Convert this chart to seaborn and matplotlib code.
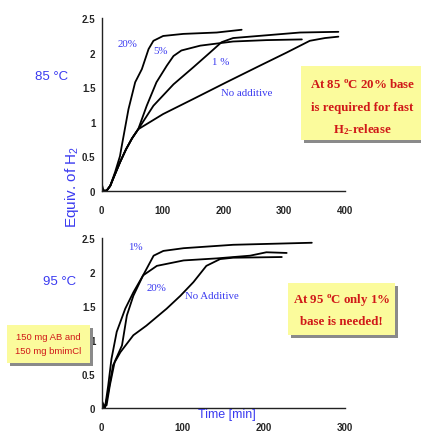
import matplotlib
matplotlib.use("Agg")
import matplotlib.pyplot as plt
from matplotlib.patches import Rectangle
import seaborn as sns

# ---- 85 C panel (time in min, equiv. of H2) ----
t85_20 = [0, 3, 8, 14, 22, 30, 33, 44, 55, 66, 77, 85, 101, 134, 189, 230]
h85_20 = [0.1, 0.0, 0.0, 0.07, 0.27, 0.5, 0.65, 1.18, 1.57, 1.76, 2.05, 2.17, 2.24, 2.27, 2.29, 2.33]

t85_5 = [0, 8, 14, 20, 30, 40, 50, 60, 74, 90, 107, 118, 131, 162, 216, 271, 329]
h85_5 = [0.0, 0.0, 0.07, 0.2, 0.41, 0.6, 0.76, 0.89, 1.23, 1.57, 1.81, 1.95, 2.03, 2.10, 2.16, 2.18, 2.19]

t85_1 = [0, 8, 14, 20, 30, 40, 50, 60, 85, 118, 151, 178, 197, 216, 271, 326, 389]
h85_1 = [0.0, 0.0, 0.07, 0.2, 0.41, 0.6, 0.76, 0.89, 1.23, 1.54, 1.79, 2.00, 2.15, 2.21, 2.25, 2.29, 2.30]

t85_0 = [0, 8, 14, 20, 30, 40, 50, 60, 101, 151, 205, 260, 304, 342, 367, 389]
h85_0 = [0.0, 0.0, 0.07, 0.2, 0.41, 0.6, 0.76, 0.89, 1.11, 1.33, 1.57, 1.81, 2.00, 2.17, 2.21, 2.23]

# ---- 95 C panel ----
t95_1 = [0, 4, 8, 12, 18.5, 29, 39, 51, 64, 76, 101, 162, 259]
h95_1 = [0.11, 0.0, 0.33, 0.72, 1.12, 1.46, 1.70, 1.95, 2.24, 2.31, 2.35, 2.40, 2.43]

t95_20 = [0, 6, 10, 16, 25, 31, 39, 51, 68, 101, 142, 183, 203, 228]
h95_20 = [0.0, 0.04, 0.33, 0.68, 0.92, 1.36, 1.65, 1.95, 2.09, 2.17, 2.20, 2.24, 2.29, 2.28]

t95_0 = [0, 4, 8, 14, 23, 39, 55, 68, 80, 97, 113, 129, 146, 162, 222]
h95_0 = [0.0, 0.01, 0.23, 0.63, 0.82, 1.07, 1.21, 1.34, 1.46, 1.65, 1.85, 2.09, 2.19, 2.21, 2.22]

y_ticks = [0, 0.5, 1, 1.5, 2, 2.5]
y_tick_labels = ["0", "0.5", "1", "1.5", "2", "2.5"]

sns.set_style("white")
plt.rcParams['font.family'] = ['Liberation Sans', 'DejaVu Sans']
plt.rcParams['mathtext.default'] = 'regular'

BLUE = '#3a3af0'
RED = '#d01818'
YELLOW = '#fbfb9c'
SANS = ['Liberation Sans', 'DejaVu Sans']
SERIF = ['Liberation Serif', 'DejaVu Serif']
tick_font = dict(family=SANS, weight='bold', size=7)

fig = plt.figure(figsize=(4.21, 4.35), dpi=100)
ax1 = fig.add_axes([0.2416, 0.5593, 0.578, 0.397])
ax2 = fig.add_axes([0.2416, 0.0598, 0.578, 0.3908])


def draw_curves(ax, series):
    for t, h in series:
        sns.lineplot(x=t, y=h, ax=ax, color='black', linewidth=1.3,
                     sort=False, estimator=None)


draw_curves(ax1, [(t85_20, h85_20), (t85_5, h85_5), (t85_1, h85_1), (t85_0, h85_0)])
draw_curves(ax2, [(t95_1, h95_1), (t95_20, h95_20), (t95_0, h95_0)])

for ax, xmax in [(ax1, 400), (ax2, 300)]:
    ax.set_xlim(0, xmax)
    ax.set_ylim(0, 2.5)
    ax.set_xticks(range(0, xmax + 1, 100))
    ax.set_xticklabels([str(v) for v in range(0, xmax + 1, 100)], **tick_font)
    ax.set_yticks(y_ticks)
    ax.set_yticklabels(y_tick_labels, **tick_font)
    ax.set_xlabel('')
    ax.set_ylabel('')
    ax.patch.set_alpha(0)
    for s in ['top', 'right']:
        ax.spines[s].set_visible(False)
    for s in ['left', 'bottom']:
        ax.spines[s].set_color('#222222')
        ax.spines[s].set_linewidth(1.0)
    ax.tick_params(axis='both', direction='out', length=3, width=1, color='#222222')
    ax.tick_params(axis='x', pad=7)
    ax.tick_params(axis='y', pad=1.5)

# series labels
lab = dict(color=BLUE, family=SERIF, fontsize=7.8, ha='center', va='center')
ax1.text(43, 2.13, '20%', **lab)
ax1.text(96, 2.03, '5%', **lab)
ax1.text(195, 1.87, '1 %', **lab)
ax1.text(239, 1.42, 'No additive', **lab)
ax2.text(41, 2.38, '1%', **lab)
ax2.text(68, 1.77, '20%', **lab)
ax2.text(136, 1.65, 'No Additive', **lab)

# axis titles and temperatures
fig.text(0.170, 0.571, 'Equiv. of H$_2$', rotation=90, color=BLUE, fontsize=11,
         family=SANS, ha='center', va='center')
fig.text(0.538, 0.046, 'Time [min]', color=BLUE, fontsize=9, family=SANS,
         ha='center', va='center')
fig.text(0.122, 0.823, '85 °C', color=BLUE, fontsize=9.5, family=SANS,
         ha='center', va='center')
fig.text(0.142, 0.352, '95 °C', color=BLUE, fontsize=9.5, family=SANS,
         ha='center', va='center')


def note_box(x0, y0, x1, y1, lines, family, size, weight):
    W, H = 421.0, 435.0
    fig.add_artist(Rectangle((x0 / W + 3 / W, 1 - y1 / H - 3 / H), (x1 - x0) / W, (y1 - y0) / H,
                             transform=fig.transFigure, facecolor='#8a8a8a', edgecolor='none'))
    fig.add_artist(Rectangle((x0 / W, 1 - y1 / H), (x1 - x0) / W, (y1 - y0) / H,
                             transform=fig.transFigure, facecolor=YELLOW, edgecolor='none'))
    cx = (x0 + x1) / 2
    for ly, txt in lines:
        fig.text(cx / W, 1 - ly / H, txt, color=RED, family=family, fontsize=size,
                 weight=weight, ha='center', va='center')


note_box(301, 67, 424, 141,
         [(85, 'At 85 $^{o}$C 20% base'), (108, 'is required for fast'),
          (130, 'H$_2$-release')], SERIF, 9.3, 'bold')
note_box(288, 284, 395, 336,
         [(300, 'At 95 $^{o}$C only 1%'), (322, 'base is needed!')],
         SERIF, 9.3, 'bold')
note_box(7, 326, 90, 364,
         [(338, '150 mg AB and'), (352, '150 mg bmimCl')],
         SANS, 6.8, 'normal')

fig.savefig('out.png', dpi=100)
